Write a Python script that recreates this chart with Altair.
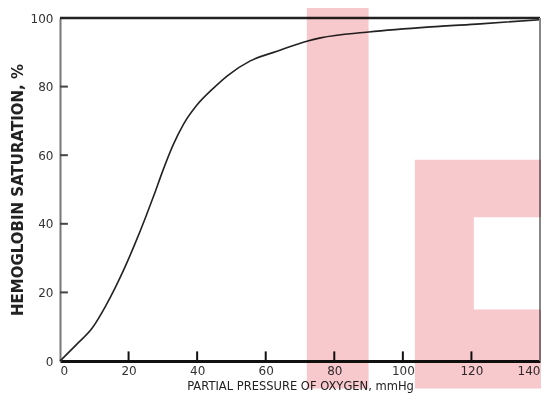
import altair as alt
import pandas as pd

# Oxygen-hemoglobin dissociation curve
po2 = [0, 5, 9.4, 13.3, 19, 22, 25, 27.5, 30, 33, 36, 40, 44.7, 49, 55.5, 63.3, 72, 76, 90, 108, 122.6, 140]
sat = [0, 5, 9.6, 16, 27.5, 34.5, 42, 48.6, 55.5, 63, 69, 74.7, 79.5, 83.3, 87.5, 90.3, 93.2, 94.2, 95.9, 97.4, 98.3, 99.5]

x_ticks = [0, 20, 40, 60, 80, 100, 120, 140]
y_ticks = [0, 20, 40, 60, 80, 100]
x_inner_ticks = [20, 40, 60, 80, 100, 120]
y_inner_ticks = [20, 40, 60, 80]

# pink highlighted regions (data units)
shade_x0 = [72, 103.5, 120.7, 120.7]
shade_x1 = [90, 120.7, 143, 143]
shade_y0 = [-8, -8, 41.9, -8]
shade_y1 = [105, 58.7, 58.7, 15]

X_MIN, X_MAX = 0, 140
Y_MIN, Y_MAX = 0, 100

curve = pd.DataFrame({"x": po2, "y": sat})
shades = pd.DataFrame({"x0": shade_x0, "x1": shade_x1, "y0": shade_y0, "y1": shade_y1})
xt = pd.DataFrame({"x": x_inner_ticks, "y0": [0] * len(x_inner_ticks), "y1": [2.8] * len(x_inner_ticks)})
yt = pd.DataFrame({"y": y_inner_ticks, "x0": [0] * len(y_inner_ticks), "x1": [2.3] * len(y_inner_ticks)})
frame_top = pd.DataFrame({"x0": [X_MIN], "x1": [X_MAX], "y": [Y_MAX]})
frame_right = pd.DataFrame({"x": [X_MAX], "y0": [Y_MIN], "y1": [Y_MAX]})

FONT = "DejaVu Sans"
xscale = alt.Scale(domain=[X_MIN, X_MAX], nice=False, zero=False)
yscale = alt.Scale(domain=[Y_MIN, Y_MAX], nice=False, zero=False)

xaxis = alt.Axis(
    values=x_ticks, title="PARTIAL PRESSURE OF OXYGEN, mmHg", tickSize=0, labelPadding=4,
    domainColor="#111111", domainWidth=3, grid=False,
    labelFont=FONT, labelFontSize=12, labelColor="#333333",
    titleFont=FONT, titleFontSize=11.5, titleFontWeight="normal", titleColor="#222222", titlePadding=4,
)
yaxis = alt.Axis(
    values=y_ticks, title="HEMOGLOBIN SATURATION, %", tickSize=0, labelPadding=7,
    domainColor="#777777", domainWidth=2, grid=False,
    labelFont=FONT, labelFontSize=12, labelColor="#333333",
    titleFont=FONT, titleFontSize=15, titleFontWeight="bold", titleColor="#222222", titlePadding=5,
)

def X(field):
    return alt.X(field, type="quantitative", scale=xscale, axis=xaxis)

def Y(field):
    return alt.Y(field, type="quantitative", scale=yscale, axis=yaxis)

line = alt.Chart(curve).mark_line(color="#222222", strokeWidth=1.6, interpolate="monotone").encode(
    x=X("x"), y=Y("y")
)

top = alt.Chart(frame_top).mark_rule(color="#222222", strokeWidth=2.5).encode(
    x=X("x0"), x2="x1", y=Y("y")
)
right = alt.Chart(frame_right).mark_rule(color="#888888", strokeWidth=2).encode(
    x=X("x"), y=Y("y0"), y2="y1"
)
xtick = alt.Chart(xt).mark_rule(color="#111111", strokeWidth=2).encode(
    x=X("x"), y=Y("y0"), y2="y1"
)
ytick = alt.Chart(yt).mark_rule(color="#444444", strokeWidth=2).encode(
    y=Y("y"), x=X("x0"), x2="x1"
)
shade = alt.Chart(shades).mark_rect(color="#f7c8cc", clip=False, blend="multiply").encode(
    x=X("x0"), x2="x1", y=Y("y0"), y2="y1"
)

chart = alt.layer(line, top, right, xtick, ytick, shade).properties(
    width=480, height=343,
    padding={"left": 52, "top": 10, "right": 1, "bottom": 36},
    autosize=alt.AutoSizeParams(type="none"),
).configure_view(stroke=None)

chart.save("out.html", embed_options={"renderer": "svg", "actions": False})
